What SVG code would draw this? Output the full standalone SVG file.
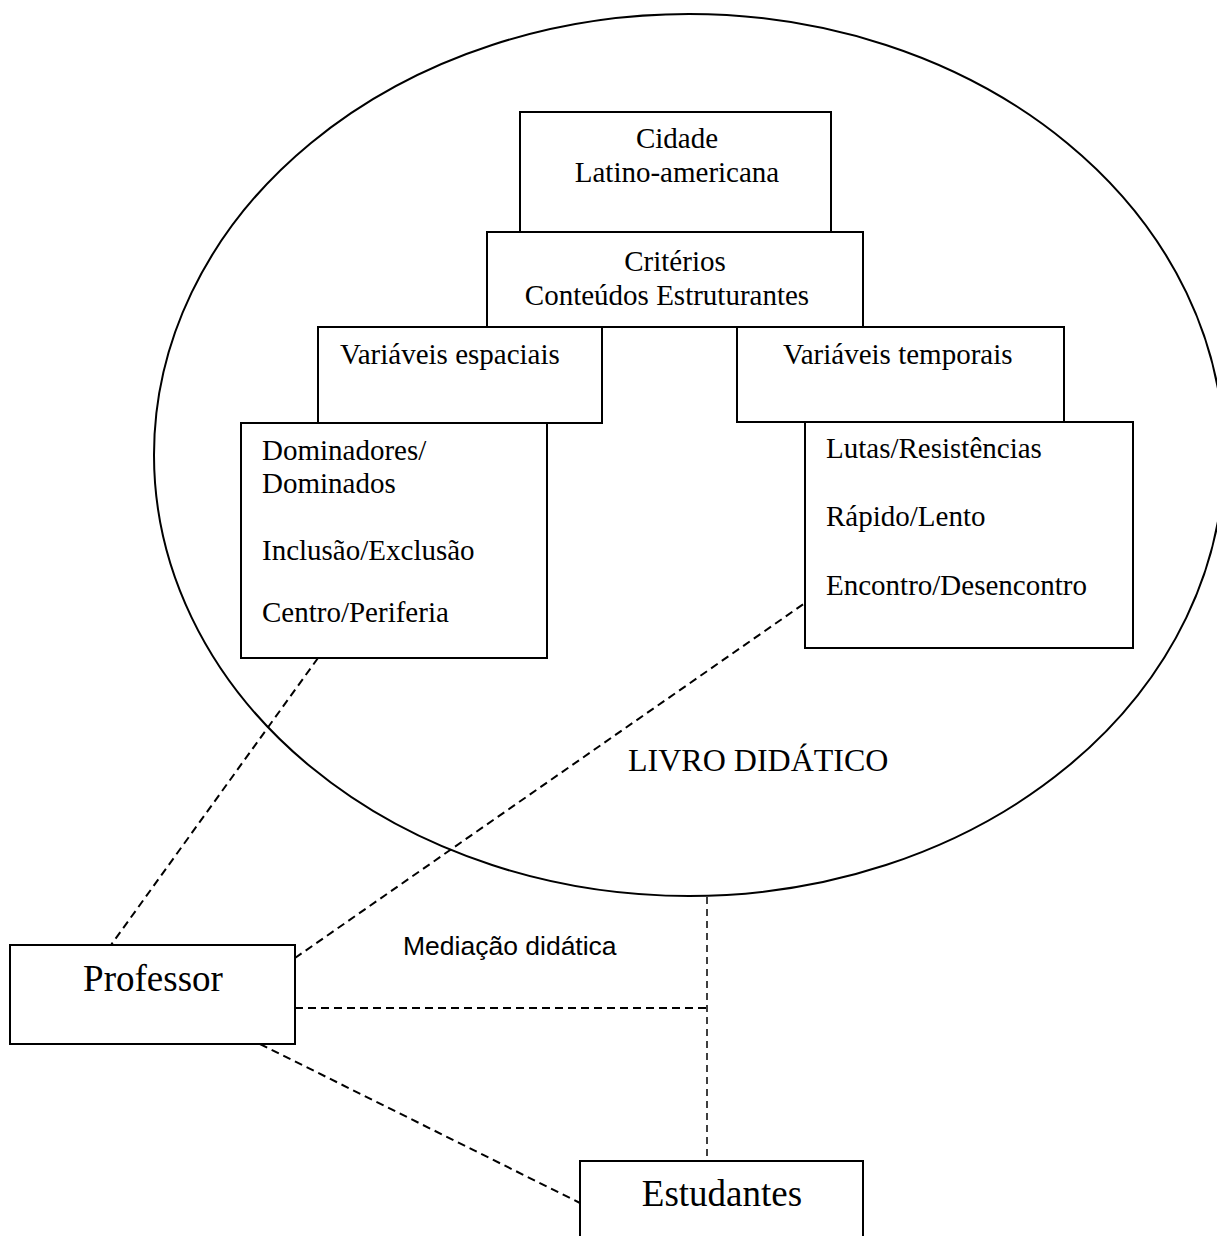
<svg xmlns="http://www.w3.org/2000/svg" width="1217" height="1236" viewBox="0 0 1217 1236">
<style>
.bg{fill:#ffffff}
.box{fill:#ffffff;stroke:#000000;stroke-width:2}
.ell{fill:none;stroke:#000000;stroke-width:2}
.t{font-family:"Liberation Serif","Times New Roman",serif;font-size:29px;fill:#000000}
.c{text-anchor:middle}
.big{font-size:37px}
.livro{font-size:32px}
.sans{font-family:"Liberation Sans",Arial,sans-serif;font-size:26.5px;fill:#000000}
.dash{fill:none;stroke:#000000;stroke-width:2;stroke-dasharray:8 5}
.dash-thin{fill:none;stroke:#000000;stroke-width:1.5;stroke-dasharray:7 5}
</style>
<rect class="bg" x="0" y="0" width="1217" height="1236"/>
<g id="livro-didatico">
<ellipse class="ell" cx="689" cy="455" rx="535" ry="441"/>
<text class="t livro" x="628" y="771">LIVRO DIDÁTICO</text>
</g>
<g id="connectors">
<line class="dash" x1="318" y1="658" x2="111" y2="945"/>
<line class="dash" x1="295" y1="958" x2="805" y2="603"/>
<line class="dash" x1="295" y1="1008" x2="707" y2="1008"/>
<line class="dash-thin" x1="707" y1="897" x2="707" y2="1160"/>
<line class="dash" x1="260" y1="1044" x2="580" y2="1203"/>
</g>
<g id="cidade">
<rect class="box" x="520" y="112" width="311" height="120"/>
<text class="t c" x="677" y="148">Cidade</text>
<text class="t c" x="677" y="182">Latino-americana</text>
</g>
<g id="criterios">
<rect class="box" x="487" y="232" width="376" height="95"/>
<text class="t c" x="675" y="271">Critérios</text>
<text class="t c" x="667" y="305">Conteúdos Estruturantes</text>
</g>
<g id="variaveis-espaciais">
<rect class="box" x="318" y="327" width="284" height="96"/>
<text class="t" x="340" y="364">Variáveis espaciais</text>
</g>
<g id="variaveis-temporais">
<rect class="box" x="737" y="327" width="327" height="95"/>
<text class="t" x="783" y="364">Variáveis temporais</text>
</g>
<g id="espaciais-lista">
<rect class="box" x="241" y="423" width="306" height="235"/>
<text class="t" x="262" y="460">Dominadores/</text>
<text class="t" x="262" y="493">Dominados</text>
<text class="t" x="262" y="560">Inclusão/Exclusão</text>
<text class="t" x="262" y="622">Centro/Periferia</text>
</g>
<g id="temporais-lista">
<rect class="box" x="805" y="422" width="328" height="226"/>
<text class="t" x="826" y="458">Lutas/Resistências</text>
<text class="t" x="826" y="526">Rápido/Lento</text>
<text class="t" x="826" y="595">Encontro/Desencontro</text>
</g>
<g id="mediacao">
<text class="sans" x="403" y="955">Mediação didática</text>
</g>
<g id="professor">
<rect class="box" x="10" y="945" width="285" height="99"/>
<text class="t c big" x="153" y="991">Professor</text>
</g>
<g id="estudantes">
<rect class="box" x="580" y="1161" width="283" height="100"/>
<text class="t c big" x="722" y="1206">Estudantes</text>
</g>
</svg>
